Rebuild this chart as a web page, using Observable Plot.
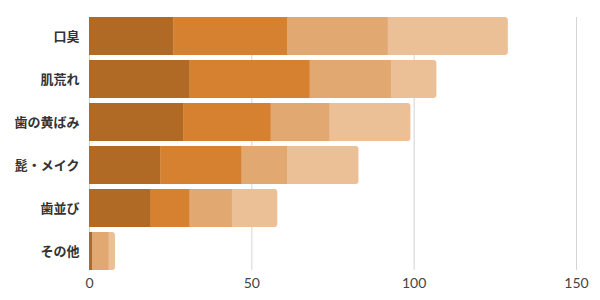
<!DOCTYPE html>
<html>
<head>
<meta charset="utf-8">
<script src="https://cdn.jsdelivr.net/npm/d3@7"></script>
<script src="https://cdn.jsdelivr.net/npm/@observablehq/plot@0.6"></script>
<style>
  html, body { margin: 0; padding: 0; background: #fff; }
  #chart { width: 600px; height: 300px; }
</style>
</head>
<body>
<div id="chart"></div>
<script>
const categories = ["口臭", "肌荒れ", "歯の黄ばみ", "髭・メイク", "歯並び", "その他"];
const seriesNames = ["s1", "s2", "s3", "s4"];
const s1 = [26, 31, 29, 22, 19, 1];
const s2 = [35, 37, 27, 25, 12, 0];
const s3 = [31, 25, 18, 14, 13, 5];
const s4 = [37, 14, 25, 22, 14, 2];
const colors = ["#B06A25", "#D68130", "#E2A872", "#EBC097"];
const xTicks = [0, 50, 100, 150];

const seriesVals = [s1, s2, s3, s4];
const totals = categories.map((c, i) => ({cat: c, total: seriesVals.reduce((a, s) => a + s[i], 0)}));
const rows = [];
for (let k = 0; k < 3; k++) {
  categories.forEach((c, i) => rows.push({cat: c, series: seriesNames[k], value: seriesVals[k][i]}));
}

const chart = Plot.plot({
  width: 600,
  height: 300,
  marginLeft: 89,
  marginRight: 24,
  marginTop: 17,
  marginBottom: 30,
  style: {fontFamily: "'Noto Sans CJK JP', sans-serif", background: "#fff"},
  x: {domain: [0, 150], ticks: xTicks, tickSize: 0, tickPadding: 8, label: null},
  y: {domain: categories, paddingInner: 0.12, paddingOuter: 0, tickSize: 0, tickPadding: 10, label: null},
  color: {domain: seriesNames, range: colors},
  marks: [
    Plot.gridX(xTicks, {stroke: "#d4d4d4", strokeOpacity: 1, strokeWidth: 1}),
    Plot.barX(totals, {x: "total", y: "cat", fill: colors[3], rx: 3}),
    Plot.barX(rows, {x: "value", y: "cat", fill: "series", order: seriesNames}),
    Plot.axisX({ticks: xTicks, tickSize: 0, tickPadding: 8, fontSize: 14, fill: "#444", fontFamily: "Lato, sans-serif", label: null}),
    Plot.axisY({tickSize: 0, tickPadding: 10, fontSize: 13, fontWeight: "bold", fill: "#333", label: null})
  ]
});
document.getElementById("chart").appendChild(chart);
</script>
</body>
</html>
